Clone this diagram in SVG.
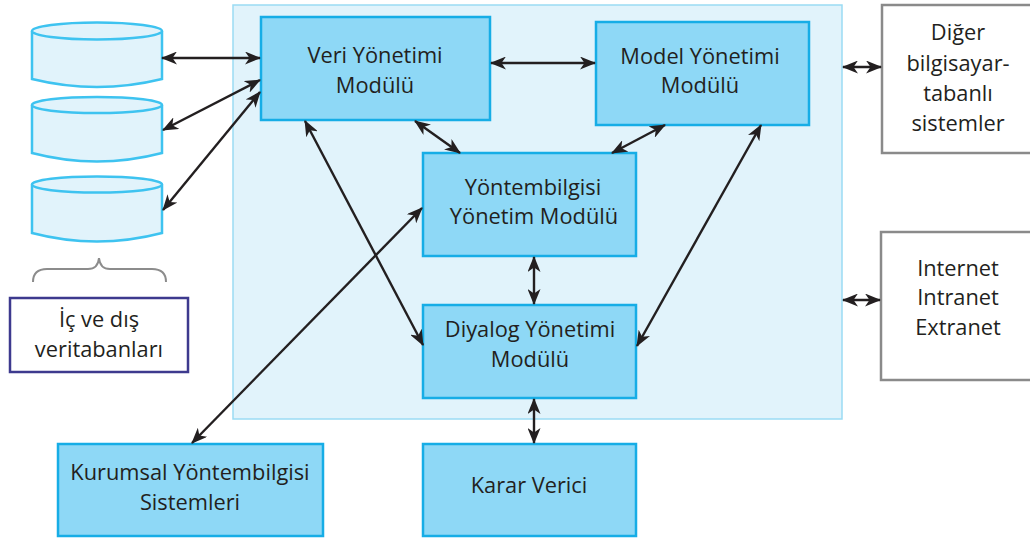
<svg xmlns="http://www.w3.org/2000/svg" width="1030" height="538" viewBox="0 0 1030 538">
  <style>
    .panel { fill: #e1f3fb; stroke: #9adbf4; stroke-width: 1.5; }
    .mod { fill: #8ed8f6; stroke: #16ade6; stroke-width: 2.5; }
    .ext { fill: #ffffff; stroke: #8a8a8a; stroke-width: 2.5; }
    .db { fill: #e1f3fb; stroke: #3ec3f0; stroke-width: 2.5; }
    .lbl { fill: #ffffff; stroke: #3d3a8e; stroke-width: 2.5; }
    .brace { fill: none; stroke: #8c8c8c; stroke-width: 2; }
    .conn { fill: none; stroke: #231f20; stroke-width: 2.4; marker-start: url(#head); marker-end: url(#head); }
    text { font-family: "Open Sans", "Noto Sans", sans-serif; font-size: 21.8px; fill: #231f20; text-anchor: middle; }
  </style>
  <defs>
    <marker id="head" viewBox="0 0 16 13" markerWidth="16" markerHeight="13" refX="15" refY="6.5" markerUnits="userSpaceOnUse" orient="auto-start-reverse">
      <path d="M0,0 L16,6.5 L0,13 L4.5,6.5 z" fill="#231f20"/>
    </marker>
  </defs>

  <!-- system boundary -->
  <rect id="dss-panel" class="panel" x="233" y="5" width="609" height="414"/>

  <!-- databases -->
  <g id="db1">
    <path class="db" d="M32,31 L32,79 Q97,95 162,79 L162,31"/>
    <ellipse class="db" cx="97" cy="31" rx="65" ry="8.5"/>
  </g>
  <g id="db2">
    <path class="db" d="M32,105 L32,153 Q97,170 162,153 L162,105"/>
    <ellipse class="db" cx="97" cy="105" rx="65" ry="8"/>
  </g>
  <g id="db3">
    <path class="db" d="M32,184.5 L32,233 Q97,250 162,233 L162,184.5"/>
    <ellipse class="db" cx="97" cy="184.5" rx="65" ry="8"/>
  </g>
  <path id="db-brace" class="brace" d="M33,282 Q33,269 47,269 L88,269 Q98,269 99,258 Q100,269 110,269 L152,269 Q166,269 166,282"/>
  <g id="db-label">
    <rect class="lbl" x="10" y="298" width="178" height="74"/>
    <text x="99" y="327">İç ve dış</text>
    <text x="99" y="357">veritabanları</text>
  </g>

  <!-- modules -->
  <g id="data-mgmt">
    <rect class="mod" x="261" y="17" width="229" height="103"/>
    <text x="375" y="63">Veri Yönetimi</text>
    <text x="375" y="93">Modülü</text>
  </g>
  <g id="model-mgmt">
    <rect class="mod" x="596" y="22" width="213" height="103"/>
    <text x="700" y="64">Model Yönetimi</text>
    <text x="700" y="93">Modülü</text>
  </g>
  <g id="knowledge-mgmt">
    <rect class="mod" x="423" y="153" width="213" height="103"/>
    <text x="533" y="195">Yöntembilgisi</text>
    <text x="534" y="224">Yönetim Modülü</text>
  </g>
  <g id="dialog-mgmt">
    <rect class="mod" x="423" y="305" width="213" height="93"/>
    <text x="530" y="337">Diyalog Yönetimi</text>
    <text x="530" y="367">Modülü</text>
  </g>
  <g id="org-knowledge">
    <rect class="mod" x="58" y="444" width="265" height="92"/>
    <text x="190" y="480">Kurumsal Yöntembilgisi</text>
    <text x="190" y="510">Sistemleri</text>
  </g>
  <g id="decision-maker">
    <rect class="mod" x="423" y="444" width="213" height="92"/>
    <text x="529" y="493">Karar Verici</text>
  </g>

  <!-- external systems -->
  <g id="other-systems">
    <rect class="ext" x="882" y="5" width="160" height="148"/>
    <text x="958" y="40">Diğer</text>
    <text x="958" y="71">bilgisayar-</text>
    <text x="958" y="101">tabanlı</text>
    <text x="958" y="131">sistemler</text>
  </g>
  <g id="networks">
    <rect class="ext" x="881" y="232" width="160" height="148"/>
    <text x="958" y="276">Internet</text>
    <text x="958" y="305">Intranet</text>
    <text x="958" y="335">Extranet</text>
  </g>

  <!-- connectors -->
  <g id="connectors">
    <line class="conn" x1="162" y1="58" x2="260" y2="58"/>
    <line class="conn" x1="163" y1="130" x2="260" y2="80"/>
    <line class="conn" x1="163" y1="210" x2="260" y2="92"/>
    <line class="conn" x1="491" y1="63" x2="595" y2="63"/>
    <line class="conn" x1="415" y1="121" x2="460" y2="153"/>
    <line class="conn" x1="665" y1="125" x2="612" y2="153"/>
    <line class="conn" x1="305" y1="121" x2="423" y2="345"/>
    <line class="conn" x1="761" y1="125" x2="637" y2="346"/>
    <line class="conn" x1="534" y1="257" x2="534" y2="304"/>
    <line class="conn" x1="534" y1="399" x2="534" y2="443"/>
    <line class="conn" x1="422" y1="208" x2="192" y2="443"/>
    <line class="conn" x1="843" y1="67" x2="881" y2="67"/>
    <line class="conn" x1="843" y1="300" x2="880" y2="300"/>
  </g>
</svg>
